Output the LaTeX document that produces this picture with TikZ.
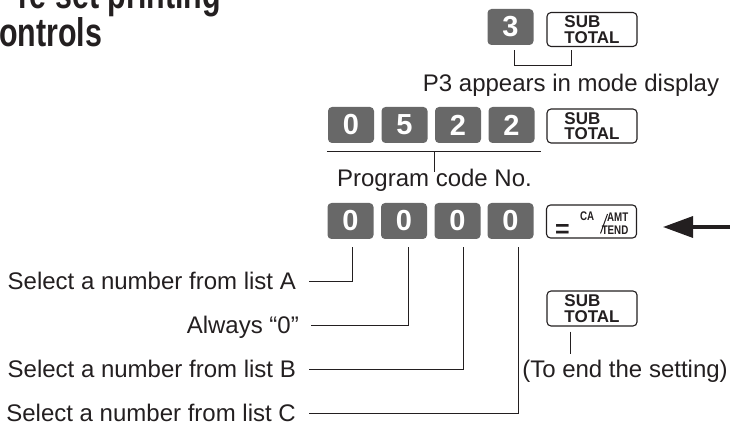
\documentclass[tikz,border=0pt]{standalone}
\usepackage{fontspec}
\setmainfont{Liberation Sans}
\newfontfamily\titlefont[FakeStretch=0.76]{Liberation Sans}
\newfontfamily\keycond[FakeStretch=0.78]{Liberation Sans}
\usetikzlibrary{arrows.meta}
\definecolor{ink}{RGB}{35,31,32}
\definecolor{keygray}{RGB}{104,104,104}
\begin{document}
\begin{tikzpicture}[x=1pt,y=-1pt,
  numkey/.style={fill=keygray, rounded corners=4pt, minimum width=46pt, minimum height=36pt,
    inner sep=0pt, text=white, font=\fontsize{29}{29}\selectfont\bfseries},
  subkey/.style={draw=ink, line width=1.1pt, fill=white, rounded corners=4pt,
    minimum width=90pt, minimum height=34pt, inner sep=0pt, text=ink, align=left,
    font=\fontsize{17}{15.5}\selectfont\bfseries},
  lbl/.style={text=ink, font=\fontsize{24}{26}\selectfont, inner sep=0pt,
    text height=16pt, text depth=0pt},
  ttl/.style={text=ink, inner sep=0pt, font=\titlefont\fontsize{40}{40}\selectfont\bfseries},
  legend/.style={text=ink, inner sep=0pt, font=\keycond\fontsize{12.5}{12.5}\selectfont\bfseries},
  ln/.style={draw=ink, line width=0.9pt},
  bigarrow/.style={draw=ink, line width=3.4pt, -{Triangle[length=30pt,width=21pt]}}
]
\useasboundingbox (0,0) rectangle (730,430);

% title (clipped)
\node[ttl, anchor=base east] (t1) at (221,9) {re set printing};
\node[ttl, anchor=base west] (t2) at (-1,47) {ontrols};

% row 1
\node[numkey] (k3) at (510.5,27) {3};
\node[subkey] (st1) at (592,29.5) {SUB\\TOTAL};
\draw[ln] ([xshift=3.5pt,yshift=-5pt]k3.south) -- ([xshift=3.5pt,yshift=-20pt]k3.south)
  -| ([xshift=-21pt,yshift=-3pt]st1.south);
\node[lbl, anchor=base] (p3) at (571,92) {P3 appears in mode display};

% row 2
\node[numkey] (k21) at (351,125) {0};
\node[numkey] (k22) at (404.5,125) {5};
\node[numkey] (k23) at (458,125) {2};
\node[numkey] (k24) at (511.5,125) {2};
\node[subkey] (st2) at (592,126) {SUB\\TOTAL};
\draw[ln] ([xshift=-1pt,yshift=-8pt]k21.south west) -- ([xshift=6pt,yshift=-8pt]k24.south east);
\draw[ln] ([xshift=0pt,yshift=-8pt]k23.south west) -- ([yshift=-29pt]k23.south west);
\node[lbl, anchor=base] (pc) at (434.5,187) {Program code No.};

% row 3
\node[numkey] (k31) at (350.5,221) {0};
\node[numkey] (k32) at (404,221) {0};
\node[numkey] (k33) at (457.5,221) {0};
\node[numkey] (k34) at (510.5,221) {0};
\node[subkey, minimum height=33pt] (ca) at (591.5,221.5) {};
\node[text=ink, inner sep=0pt, font=\fontsize{25}{25}\selectfont\bfseries] (eq) at (562.5,230.5) {=};
\node[legend, anchor=base west] (caA) at (580,220.5) {CA};
\coordinate (slA) at (600.5,233.5);
\coordinate (slB) at (607.5,214);
\draw[ink, line width=1pt] (slA) -- (slB);
\node[legend, anchor=base east] (amt) at (628.5,221.5) {AMT};
\node[legend, anchor=base east] (tend) at (628.5,234.5) {TEND};

\coordinate (arrS) at (740,227);
\coordinate (arrE) at (663,227);
\draw[bigarrow] (arrS) -- (arrE);

% labels
\node[lbl, anchor=base east] (lA) at (296,289) {Select a number from list A};
\node[lbl, anchor=base east] (lZ) at (299,333) {Always “0”};
\node[lbl, anchor=base east] (lB) at (296,377) {Select a number from list B};
\node[lbl, anchor=base east] (lC) at (296,421) {Select a number from list C};

\draw[ln] ([xshift=13pt]lA.east) -| ([xshift=2pt,yshift=-8pt]k31.south);
\draw[ln] ([xshift=12pt]lZ.east) -| ([xshift=4pt,yshift=-8pt]k32.south);
\draw[ln] ([xshift=13pt]lB.east) -| ([xshift=5.5pt,yshift=-8pt]k33.south);
\draw[ln] ([xshift=13pt]lC.east) -| ([xshift=7.5pt,yshift=-8pt]k34.south);

% end key
\node[subkey, minimum height=35pt] (st3) at (592,308.5) {SUB\\TOTAL};
\draw[ln] ([xshift=-22pt,yshift=-5pt]st3.south) -- ([xshift=-22pt,yshift=-27pt]st3.south);
\node[lbl, anchor=base] (end) at (625,377) {(To end the setting)};
\end{tikzpicture}
\end{document}
